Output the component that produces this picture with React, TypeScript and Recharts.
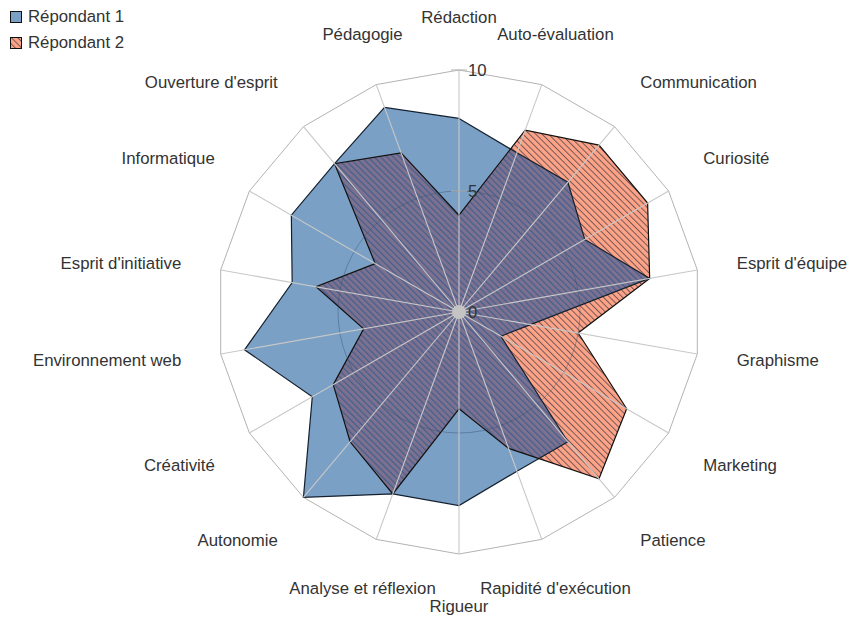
import React from 'react';
import {
	RadarChart,
	Radar,
	PolarGrid,
	PolarAngleAxis,
	PolarRadiusAxis,
	Legend,
} from 'recharts';

// page has default 8px margin, drop it so the chart sits at 0,0
document.body.style.margin = '0';

const categories = [
	'Rédaction',
	'Auto-évaluation',
	'Communication',
	'Curiosité',
	"Esprit d'équipe",
	'Graphisme',
	'Marketing',
	'Patience',
	"Rapidité d'exécution",
	'Rigueur',
	'Analyse et réflexion',
	'Autonomie',
	'Créativité',
	'Environnement web',
	"Esprit d'initiative",
	'Informatique',
	"Ouverture d'esprit",
	'Pédagogie',
];
const repondant1 = [8, 7, 7, 6, 8, 3, 2, 7, 7, 8, 8, 10, 7, 9, 7, 8, 8, 9];
const repondant2 = [4, 8, 9, 9, 8, 5, 8, 9, 6, 4, 8, 7, 6, 4, 6, 4, 8, 7];
const seriesNames = ['Répondant 1', 'Répondant 2'];
const radiusTicks = [0, 5, 10];

const chartData = categories.map((name, i) => ({
	name,
	r1: repondant1[i],
	r2: repondant2[i],
}));

const FONT = '"Liberation Sans", Arial, sans-serif';
const TEXT = '#333333';
const BLUE = '#7ba0c5';
const OUTER = 242;
const FS = 16.8;

const toPoints = (points: { x: number; y: number }[]) =>
	points.map((p) => `${p.x},${p.y}`).join(' ');

// series 1: plain fill, also exposes its outline for clipping the overlap
const BlueShape = (props: any) => {
	const pts = toPoints(props.points);
	return (
		<g>
			<defs>
				<polygon id='r1-poly' points={pts} />
				<clipPath id='r1-clip'>
					<use href='#r1-poly' />
				</clipPath>
			</defs>
			<use href='#r1-poly' fill={BLUE} stroke='none' />
		</g>
	);
};

// series 2: hatched salmon, purple hatch where it overlaps series 1
const RedShape = (props: any) => {
	const pts = toPoints(props.points);
	return (
		<g>
			<polygon points={pts} fill='url(#hatch-red)' stroke='none' />
			<polygon
				points={pts}
				fill='url(#hatch-both)'
				stroke='none'
				clipPath='url(#r1-clip)'
			/>
			<use href='#r1-poly' fill='none' stroke='#14202e' strokeWidth={1.2} />
			<polygon points={pts} fill='none' stroke='#111' strokeWidth={1.2} />
		</g>
	);
};

const AngleTick = (props: any) => {
	const { x, y, payload } = props;
	const rad = (payload.coordinate * Math.PI) / 180;
	const ux = Math.cos(rad);
	const up = Math.sin(rad);
	const anchor = ux > 0.5 ? 'start' : ux < -0.5 ? 'end' : 'middle';
	const dy = up > 0.45 ? -13 : up < -0.45 ? 12 : 0;
	return (
		<text
			x={x}
			y={y + dy}
			textAnchor={anchor}
			dominantBaseline='central'
			fontFamily={FONT}
			fontSize={FS}
			fill={TEXT}
		>
			{payload.value}
		</text>
	);
};

const RadiusTick = (props: any) => {
	const { x, y, payload } = props;
	return (
		<g>
			{payload.value === 0 ? (
				<circle cx={x} cy={y} r={7} fill='#c4c4c4' />
			) : (
				<line x1={x - 8} x2={x + 8} y1={y} y2={y} stroke='#b3b3b3' />
			)}
			<text
				x={x + 9}
				y={y}
				dominantBaseline='central'
				fontFamily={FONT}
				fontSize={FS}
				fill={TEXT}
			>
				{payload.value}
			</text>
		</g>
	);
};

const renderLegend = () => (
	<div style={{ fontFamily: FONT, fontSize: FS, color: TEXT }}>
		{seriesNames.map((name, i) => (
			<div
				key={name}
				style={{ display: 'flex', alignItems: 'center', height: 26 }}
			>
				<svg width={13} height={13} style={{ display: 'block' }}>
					<rect
						x={0.5}
						y={0.5}
						width={11}
						height={11}
						fill={i === 0 ? BLUE : 'url(#hatch-red)'}
						stroke='#111'
					/>
				</svg>
				<span style={{ marginLeft: 5 }}>{name}</span>
			</div>
		))}
	</div>
);

const App: React.FC = () => {
	return (
		<div style={{ position: 'relative', width: 852, height: 621 }}>
			<svg width={0} height={0} style={{ position: 'absolute' }}>
				<defs>
					<pattern
						id='hatch-red'
						patternUnits='userSpaceOnUse'
						width={4.5}
						height={4.5}
						patternTransform='rotate(-45)'
					>
						<rect width={4.5} height={4.5} fill='#ffa386' />
						<line x1={0.5} y1={0} x2={0.5} y2={4.5} stroke='#6a5458' strokeWidth={0.95} />
					</pattern>
					<pattern
						id='hatch-both'
						patternUnits='userSpaceOnUse'
						width={4.5}
						height={4.5}
						patternTransform='rotate(-45)'
					>
						<rect width={4.5} height={4.5} fill='#7e7190' />
						<line x1={0.6} y1={0} x2={0.6} y2={4.5} stroke='#3f5f8e' strokeWidth={1.2} />
					</pattern>
				</defs>
			</svg>
			<RadarChart
				width={852}
				height={621}
				data={chartData}
				cx={459}
				cy={312}
				outerRadius={OUTER}
				margin={{ top: 0, right: 0, bottom: 0, left: 0 }}
			>
				<PolarGrid
					gridType='polygon'
					polarRadius={[OUTER]}
					radialLines={false}
					stroke='#b3b3b3'
				/>
				<Radar
					name={seriesNames[0]}
					dataKey='r1'
					fill={BLUE}
					stroke='#14202e'
					shape={BlueShape}
					isAnimationActive={false}
				/>
				<Radar
					name={seriesNames[1]}
					dataKey='r2'
					fill='#ffa487'
					stroke='#111'
					shape={RedShape}
					isAnimationActive={false}
				/>
				<PolarGrid
					gridType='circle'
					polarRadius={[OUTER / 2]}
					radialLines={false}
					stroke='#2f4a6b'
					strokeOpacity={0.4}
					zIndex={500}
				/>
				<PolarGrid
					gridType='polygon'
					polarRadius={[]}
					stroke='#c8c8c8'
					strokeWidth={1.1}
					zIndex={500}
				/>
				<PolarAngleAxis
					dataKey='name'
					axisLine={false}
					tickLine={false}
					tickSize={40}
					tick={AngleTick}
				/>
				<PolarRadiusAxis
					angle={90}
					domain={[0, 10]}
					ticks={radiusTicks}
					axisLine={false}
					tickLine={false}
					tick={RadiusTick}
				/>
				<Legend
					content={renderLegend}
					wrapperStyle={{ position: 'absolute', left: 10, top: 4, width: 'auto' }}
				/>
			</RadarChart>
		</div>
	);
};

export default App;
